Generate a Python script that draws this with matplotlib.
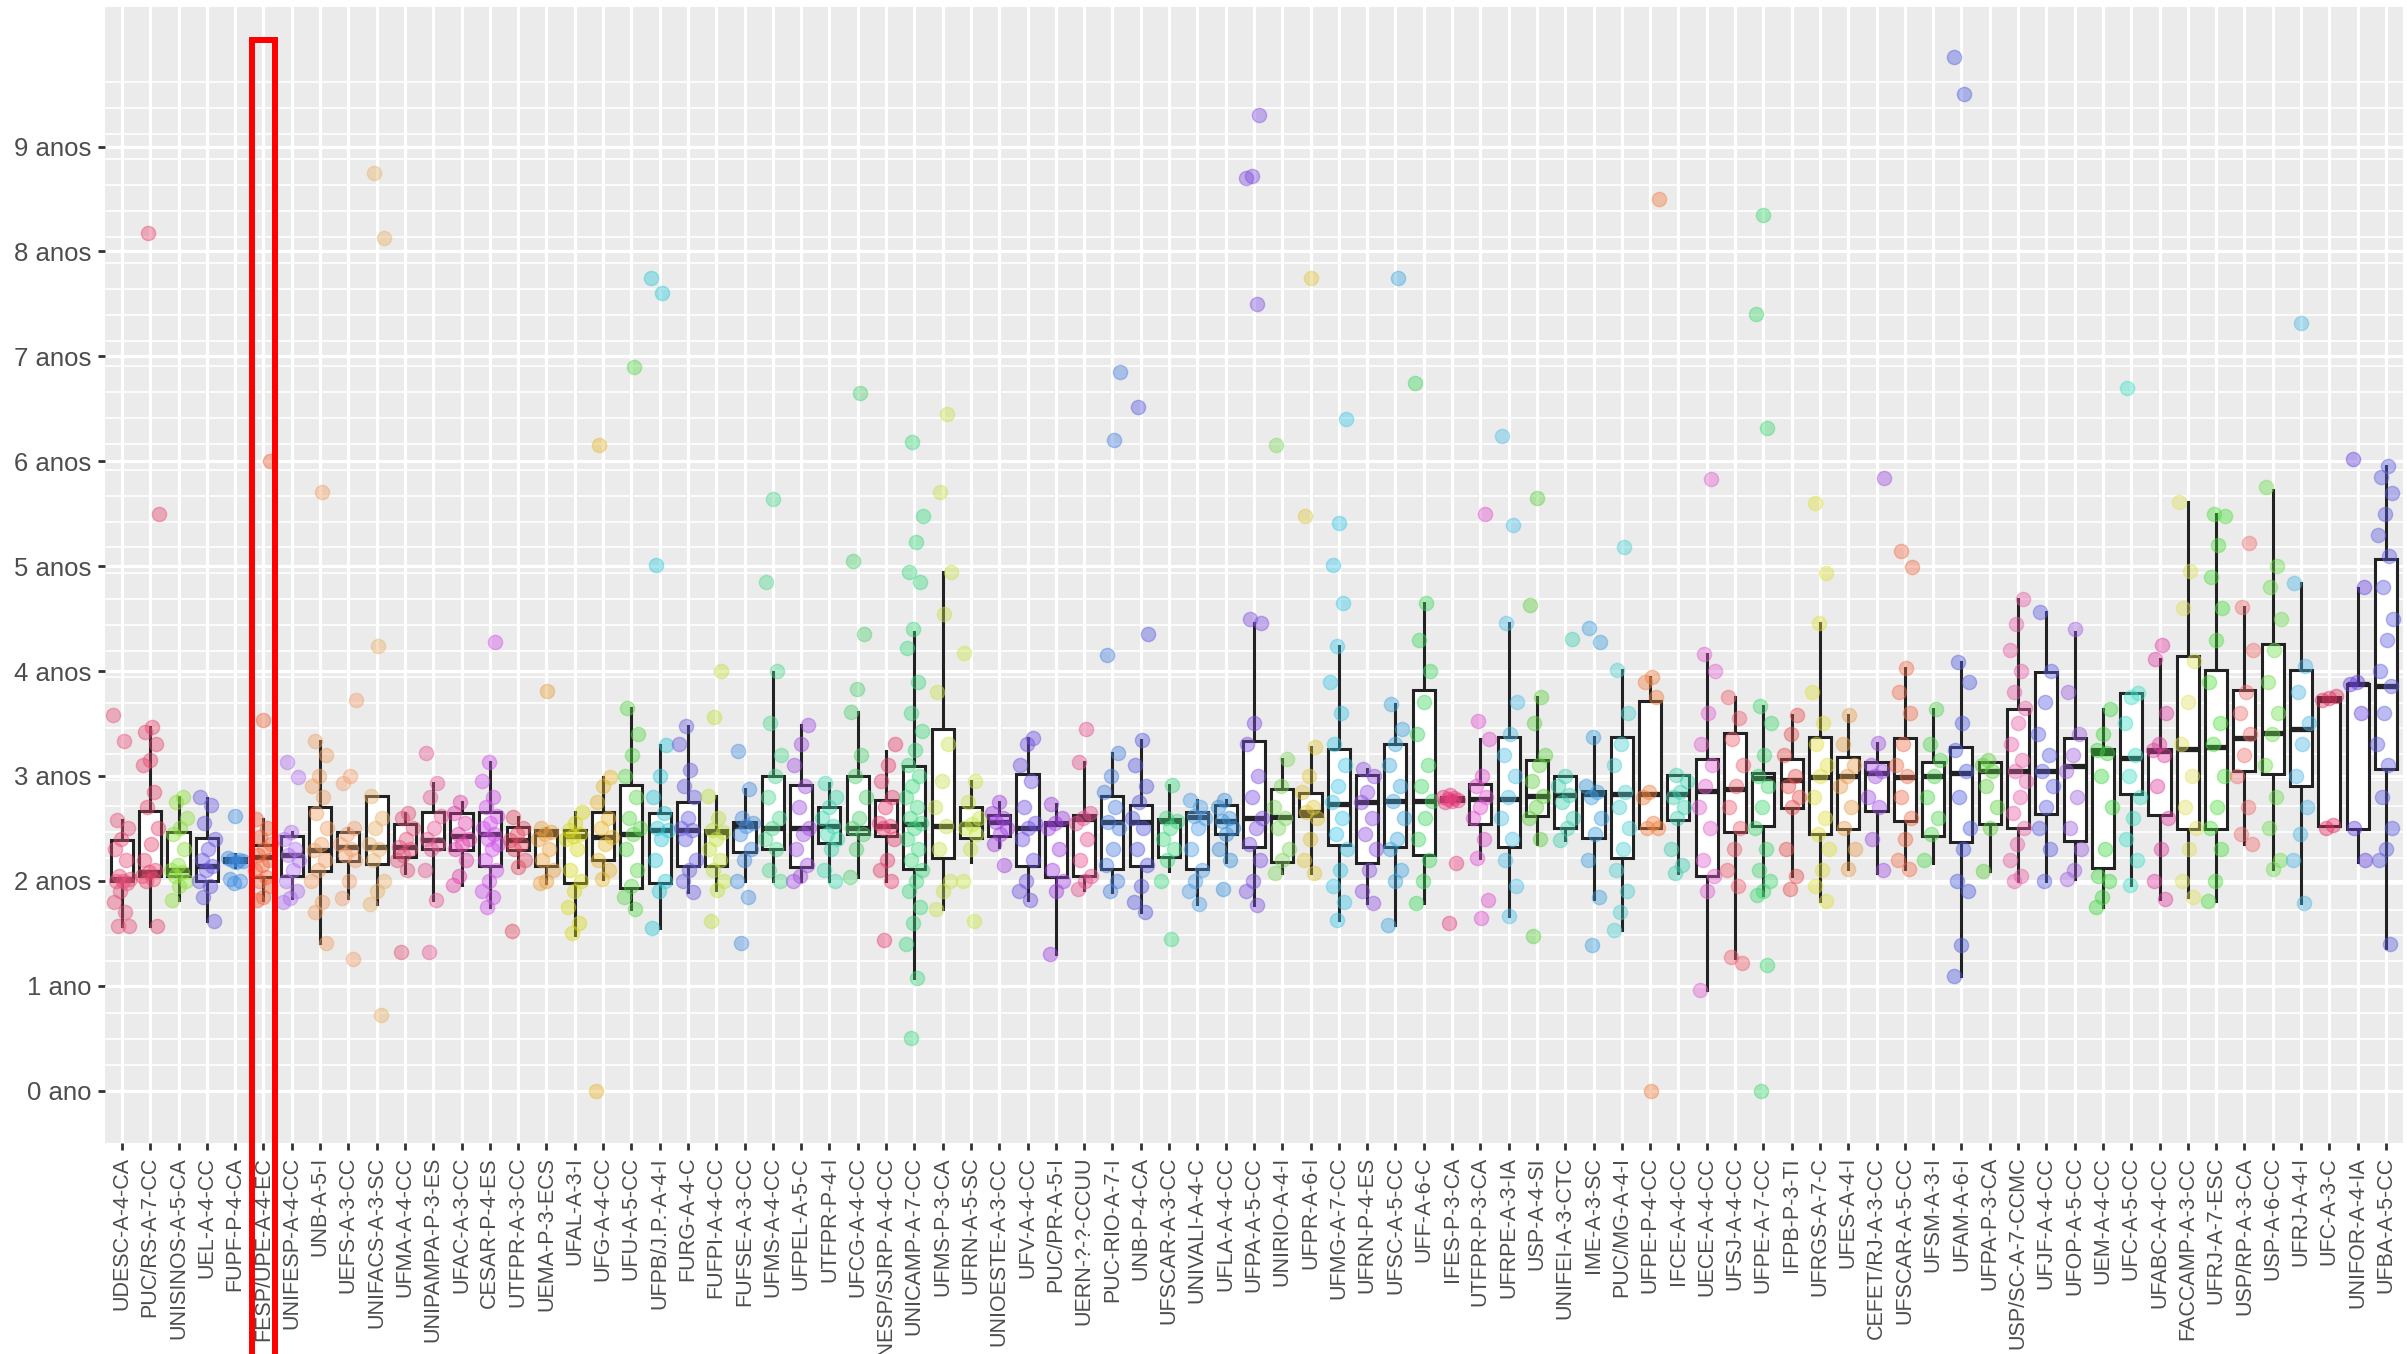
import matplotlib
matplotlib.use('Agg')
import matplotlib.pyplot as plt
import matplotlib.patches as patches
import numpy as np

plt.rcParams['font.family'] = ['Liberation Sans', 'DejaVu Sans']

# cursos (eixo x)
cursos = ['UDESC-A-4-CA', 'PUC/RS-A-7-CC', 'UNISINOS-A-5-CA', 'UEL-A-4-CC', 'FUPF-P-4-CA',
          'FESP/UPE-A-4-EC', 'UNIFESP-A-4-CC', 'UNB-A-5-I', 'UEFS-A-3-CC', 'UNIFACS-A-3-SC',
          'UFMA-A-4-CC', 'UNIPAMPA-P-3-ES', 'UFAC-A-3-CC', 'CESAR-P-4-ES', 'UTFPR-A-3-CC',
          'UEMA-P-3-ECS', 'UFAL-A-3-I', 'UFG-A-4-CC', 'UFU-A-5-CC', 'UFPB/J.P.-A-4-I',
          'FURG-A-4-C', 'FUFPI-A-4-CC', 'FUFSE-A-3-CC', 'UFMS-A-4-CC', 'UFPEL-A-5-C',
          'UTFPR-P-4-I', 'UFCG-A-4-CC', 'UNESP/SJRP-A-4-CC', 'UNICAMP-A-7-CC', 'UFMS-P-3-CA',
          'UFRN-A-5-SC', 'UNIOESTE-A-3-CC', 'UFV-A-4-CC', 'PUC/PR-A-5-I', 'UERN-?-?-CCUU',
          'PUC-RIO-A-7-I', 'UNB-P-4-CA', 'UFSCAR-A-3-CC', 'UNIVALI-A-4-C', 'UFLA-A-4-CC',
          'UFPA-A-5-CC', 'UNIRIO-A-4-I', 'UFPR-A-6-I', 'UFMG-A-7-CC', 'UFRN-P-4-ES',
          'UFSC-A-5-CC', 'UFF-A-6-C', 'IFES-P-3-CA', 'UTFPR-P-3-CA', 'UFRPE-A-3-IA',
          'USP-A-4-SI', 'UNIFEI-A-3-CTC', 'IME-A-3-SC', 'PUC/MG-A-4-I', 'UFPE-P-4-CC',
          'IFCE-A-4-CC', 'UECE-A-4-CC', 'UFSJ-A-4-CC', 'UFPE-A-7-CC', 'IFPB-P-3-TI',
          'UFRGS-A-7-C', 'UFES-A-4-I', 'CEFET/RJ-A-3-CC', 'UFSCAR-A-5-CC', 'UFSM-A-3-I',
          'UFAM-A-6-I', 'UFPA-P-3-CA', 'USP/SC-A-7-CCMC', 'UFJF-A-4-CC', 'UFOP-A-5-CC',
          'UEM-A-4-CC', 'UFC-A-5-CC', 'UFABC-A-4-CC', 'FACCAMP-A-3-CC', 'UFRJ-A-7-ESC',
          'USP/RP-A-3-CA', 'USP-A-6-CC', 'UFRJ-A-4-I', 'UFC-A-3-C', 'UNIFOR-A-4-IA',
          'UFBA-A-5-CC']

# estatisticas das caixas (anos)
q1 = [2.00, 2.05, 2.05, 2.00, 2.18, 2.04, 2.05, 2.09, 2.19, 2.16,
      2.23, 2.30, 2.29, 2.14, 2.29, 2.14, 1.98, 2.20, 1.93, 1.98,
      2.14, 2.14, 2.27, 2.30, 2.13, 2.36, 2.45, 2.43, 2.11, 2.22,
      2.41, 2.43, 2.14, 2.04, 2.05, 2.11, 2.14, 2.23, 2.11, 2.45,
      2.32, 2.18, 2.62, 2.34, 2.17, 2.32, 2.25, 2.76, 2.54, 2.32,
      2.62, 2.50, 2.41, 2.22, 2.50, 2.58, 2.05, 2.47, 2.52, 2.69,
      2.45, 2.49, 2.67, 2.57, 2.43, 2.37, 2.54, 2.50, 2.64, 2.38,
      2.12, 2.83, 2.63, 2.49, 2.49, 3.05, 3.02, 2.90, 2.52, 2.49,
      3.07]
mediana = [2.02, 2.08, 2.10, 2.14, 2.20, 2.23, 2.25, 2.29, 2.32, 2.32,
           2.32, 2.39, 2.43, 2.45, 2.39, 2.45, 2.43, 2.42, 2.45, 2.48,
           2.48, 2.47, 2.52, 2.50, 2.50, 2.52, 2.50, 2.52, 2.54, 2.52,
           2.54, 2.56, 2.50, 2.54, 2.59, 2.56, 2.56, 2.57, 2.61, 2.57,
           2.60, 2.61, 2.66, 2.73, 2.75, 2.76, 2.76, 2.78, 2.78, 2.78,
           2.81, 2.82, 2.83, 2.83, 2.83, 2.83, 2.86, 2.88, 2.98, 2.96,
           2.99, 3.00, 3.03, 2.99, 3.00, 3.03, 3.05, 3.05, 3.05, 3.09,
           3.22, 3.17, 3.24, 3.26, 3.28, 3.36, 3.41, 3.45, 3.72, 3.88,
           3.86]
q3 = [2.39, 2.67, 2.47, 2.41, 2.22, 2.34, 2.43, 2.70, 2.47, 2.81,
      2.54, 2.66, 2.65, 2.66, 2.51, 2.48, 2.48, 2.66, 2.91, 2.65,
      2.75, 2.48, 2.56, 3.00, 2.91, 2.70, 3.00, 2.77, 3.09, 3.45,
      2.70, 2.63, 3.02, 2.56, 2.63, 2.81, 2.72, 2.59, 2.66, 2.72,
      3.33, 2.88, 2.84, 3.26, 3.01, 3.30, 3.82, 2.80, 2.92, 3.37,
      3.15, 3.00, 2.86, 3.37, 3.71, 3.01, 3.16, 3.41, 3.03, 3.16,
      3.37, 3.18, 3.13, 3.36, 3.13, 3.28, 3.13, 3.64, 3.99, 3.36,
      3.26, 3.79, 3.26, 4.14, 4.01, 3.82, 4.26, 4.01, 3.75, 3.88,
      5.07]
bigode_inf = [1.57, 1.57, 1.82, 1.62, 2.13, 1.82, 1.84, 1.41, 1.84, 1.78,
              2.07, 1.82, 1.96, 1.75, 2.13, 1.98, 1.48, 2.02, 1.73, 1.55,
              1.89, 1.91, 2.00, 2.00, 2.00, 2.00, 2.04, 2.00, 1.07, 1.73,
              2.18, 2.32, 1.82, 1.30, 1.91, 1.89, 1.70, 2.09, 1.78, 2.18,
              1.77, 2.07, 2.07, 1.63, 1.79, 1.58, 1.79, 2.74, 2.22, 1.66,
              2.35, 2.39, 1.83, 1.53, 2.50, 2.07, 0.96, 1.26, 1.86, 2.05,
              1.81, 2.11, 2.07, 2.11, 2.17, 1.09, 2.09, 2.00, 2.00, 2.02,
              1.75, 1.96, 1.83, 1.85, 1.81, 2.35, 2.11, 1.79, 2.52, 2.18,
              1.36]
bigode_sup = [2.58, 3.47, 2.80, 2.79, 2.26, 2.59, 2.47, 3.33, 2.50, 2.81,
              2.65, 2.93, 2.75, 3.13, 2.61, 2.50, 2.66, 2.99, 3.65, 3.29,
              3.48, 2.81, 2.88, 3.99, 3.49, 2.93, 3.61, 3.24, 4.37, 4.94,
              2.95, 2.75, 3.36, 2.73, 3.13, 3.22, 3.34, 2.91, 2.77, 2.77,
              4.46, 3.16, 3.28, 4.24, 3.07, 3.69, 4.65, 2.82, 3.35, 4.46,
              3.75, 3.00, 3.37, 4.01, 3.94, 3.01, 4.16, 3.75, 3.67, 3.58,
              4.46, 3.58, 3.31, 4.03, 3.64, 4.09, 3.13, 4.69, 4.56, 4.37,
              3.64, 3.79, 4.11, 5.61, 5.50, 4.61, 5.73, 4.84, 3.75, 4.79,
              5.95]

# tempo de cada aluno (anos), por curso
alunos = [
    [3.58, 3.33, 2.58, 2.5, 2.4, 2.3, 2.2, 2.05, 2.02, 2.0, 2.0, 1.98, 1.9, 1.8, 1.7, 1.57, 1.57],
    [8.18, 5.5, 3.47, 3.42, 3.3, 3.15, 3.1, 2.85, 2.7, 2.5, 2.35, 2.2, 2.1, 2.08, 2.05, 2.02, 2.0, 1.57],
    [2.8, 2.75, 2.6, 2.5, 2.45, 2.3, 2.15, 2.1, 2.08, 2.05, 2.0, 1.95, 1.82],
    [2.8, 2.72, 2.55, 2.4, 2.3, 2.2, 2.14, 2.1, 2.0, 1.95, 1.85, 1.62],
    [2.62, 2.22, 2.2, 2.2, 2.19, 2.18, 2.02, 2.0, 1.98],
    [6.0, 3.53, 2.59, 2.5, 2.42, 2.35, 2.3, 2.25, 2.2, 2.15, 2.1, 2.04, 2.0, 1.95, 1.85, 1.82],
    [3.13, 2.99, 2.47, 2.4, 2.3, 2.25, 2.2, 2.1, 2.0, 1.9, 1.84, 1.8],
    [5.71, 3.33, 3.2, 3.0, 2.9, 2.8, 2.65, 2.5, 2.35, 2.29, 2.2, 2.1, 2.0, 1.8, 1.7, 1.41],
    [3.72, 3.0, 2.93, 2.5, 2.45, 2.35, 2.3, 2.25, 2.2, 2.0, 1.84, 1.25],
    [8.75, 8.13, 4.24, 2.81, 2.6, 2.5, 2.35, 2.3, 2.2, 2.0, 1.9, 1.78, 0.72],
    [2.65, 2.6, 2.5, 2.4, 2.32, 2.3, 2.25, 2.2, 2.1, 1.32],
    [3.22, 2.93, 2.8, 2.62, 2.5, 2.4, 2.35, 2.3, 2.1, 1.82, 1.32],
    [2.75, 2.65, 2.55, 2.45, 2.4, 2.35, 2.3, 2.2, 2.05, 1.96],
    [4.28, 3.13, 2.95, 2.8, 2.7, 2.62, 2.55, 2.5, 2.45, 2.4, 2.35, 2.3, 2.2, 2.1, 2.0, 1.9, 1.85, 1.75],
    [2.61, 2.5, 2.45, 2.39, 2.35, 2.3, 2.2, 2.13, 1.52],
    [3.81, 2.5, 2.47, 2.45, 2.4, 2.3, 2.2, 2.1, 2.0, 1.98],
    [2.66, 2.55, 2.48, 2.45, 2.43, 2.4, 2.3, 2.1, 2.0, 1.9, 1.75, 1.6, 1.5],
    [6.15, 2.99, 2.9, 2.75, 2.6, 2.5, 2.42, 2.35, 2.2, 2.1, 2.02, 0.0],
    [6.9, 3.65, 3.4, 3.2, 3.0, 2.8, 2.6, 2.5, 2.45, 2.3, 2.1, 1.95, 1.85, 1.73],
    [7.75, 7.6, 5.01, 3.29, 3.0, 2.8, 2.65, 2.5, 2.48, 2.4, 2.2, 2.0, 1.9, 1.55],
    [3.48, 3.3, 3.06, 2.9, 2.8, 2.6, 2.5, 2.48, 2.4, 2.2, 2.1, 2.0, 1.89],
    [4.0, 3.56, 2.81, 2.6, 2.48, 2.47, 2.4, 2.3, 2.2, 2.1, 2.0, 1.91, 1.62],
    [3.24, 2.88, 2.6, 2.55, 2.52, 2.45, 2.3, 2.2, 2.0, 1.85, 1.41],
    [5.64, 4.85, 4.0, 3.5, 3.2, 3.0, 2.8, 2.6, 2.5, 2.4, 2.3, 2.1, 2.0],
    [3.49, 3.3, 3.1, 2.9, 2.7, 2.5, 2.45, 2.3, 2.15, 2.05, 2.0],
    [2.93, 2.8, 2.7, 2.6, 2.52, 2.45, 2.4, 2.3, 2.1, 2.0],
    [6.65, 5.05, 4.35, 3.83, 3.61, 3.2, 3.0, 2.8, 2.6, 2.5, 2.45, 2.3, 2.04],
    [3.3, 3.1, 2.95, 2.8, 2.7, 2.55, 2.52, 2.5, 2.4, 2.2, 2.1, 2.0, 1.44],
    [6.18, 5.48, 5.23, 4.94, 4.85, 4.4, 4.22, 3.9, 3.6, 3.43, 3.25, 3.1, 3.0, 2.9, 2.8,
     2.7, 2.6, 2.55, 2.5, 2.4, 2.3, 2.2, 2.1, 2.0, 1.9, 1.75, 1.6, 1.4, 1.07, 0.5],
    [6.45, 5.71, 4.94, 4.54, 3.8, 3.3, 2.95, 2.7, 2.52, 2.3, 2.0, 1.9, 1.73],
    [4.17, 2.95, 2.75, 2.6, 2.54, 2.5, 2.45, 2.3, 2.0, 1.62],
    [2.75, 2.65, 2.6, 2.56, 2.5, 2.45, 2.35, 2.15],
    [3.36, 3.3, 3.1, 2.95, 2.7, 2.55, 2.5, 2.4, 2.2, 2.0, 1.9, 1.82],
    [2.73, 2.6, 2.55, 2.5, 2.3, 2.1, 2.0, 1.9, 1.3],
    [3.45, 3.13, 2.65, 2.6, 2.55, 2.4, 2.2, 2.05, 2.0, 1.92],
    [6.85, 6.2, 4.15, 3.22, 3.0, 2.85, 2.7, 2.56, 2.5, 2.3, 2.15, 2.0, 1.9],
    [6.52, 4.35, 3.34, 3.1, 2.9, 2.75, 2.6, 2.5, 2.3, 2.15, 1.95, 1.8, 1.7],
    [2.91, 2.6, 2.57, 2.5, 2.4, 2.3, 2.2, 2.0, 1.45],
    [2.77, 2.7, 2.62, 2.6, 2.5, 2.3, 2.1, 2.0, 1.9, 1.78],
    [2.77, 2.7, 2.6, 2.57, 2.5, 2.45, 2.3, 2.2, 1.92],
    [9.3, 8.72, 8.7, 7.5, 4.5, 4.46, 3.5, 3.3, 3.0, 2.8, 2.6, 2.5, 2.35, 2.2, 2.0, 1.9, 1.77],
    [6.15, 3.16, 2.9, 2.7, 2.6, 2.5, 2.3, 2.2, 2.07],
    [7.75, 5.48, 3.28, 3.0, 2.85, 2.7, 2.66, 2.6, 2.4, 2.2, 2.07],
    [6.4, 5.41, 5.01, 4.65, 4.24, 3.9, 3.6, 3.3, 3.1, 2.9, 2.75, 2.6, 2.45, 2.3, 2.1, 1.95, 1.8, 1.63],
    [3.07, 3.0, 2.85, 2.75, 2.6, 2.45, 2.3, 2.1, 1.9, 1.79],
    [7.75, 3.69, 3.45, 3.3, 3.1, 2.9, 2.76, 2.6, 2.4, 2.3, 2.1, 2.0, 1.58],
    [6.75, 4.65, 4.3, 4.0, 3.7, 3.4, 3.1, 2.9, 2.76, 2.6, 2.4, 2.2, 2.0, 1.79],
    [2.82, 2.8, 2.79, 2.78, 2.77, 2.76, 2.75, 2.17, 1.6],
    [5.5, 3.52, 3.35, 3.0, 2.9, 2.8, 2.7, 2.6, 2.4, 2.22, 1.82, 1.65],
    [6.24, 5.39, 4.46, 3.7, 3.4, 3.2, 3.0, 2.8, 2.6, 2.4, 2.2, 1.95, 1.66],
    [5.65, 4.63, 3.75, 3.5, 3.2, 3.1, 2.95, 2.81, 2.7, 2.6, 2.4, 1.47],
    [4.31, 3.0, 2.9, 2.82, 2.75, 2.6, 2.5, 2.39],
    [4.41, 4.28, 3.37, 2.9, 2.85, 2.8, 2.6, 2.45, 2.2, 1.85, 1.39],
    [5.18, 4.01, 3.6, 3.3, 3.1, 2.85, 2.7, 2.5, 2.3, 2.1, 1.9, 1.7, 1.53],
    [8.5, 3.94, 3.9, 3.75, 2.85, 2.8, 2.55, 2.5, 2.5, 0.0],
    [3.01, 2.95, 2.85, 2.8, 2.7, 2.6, 2.3, 2.15, 2.07],
    [5.83, 4.16, 4.0, 3.6, 3.3, 3.1, 2.9, 2.7, 2.5, 2.2, 2.05, 1.9, 0.96],
    [3.75, 3.55, 3.35, 3.1, 2.9, 2.7, 2.5, 2.3, 2.1, 1.95, 1.27, 1.22],
    [8.35, 7.4, 6.32, 3.67, 3.5, 3.2, 3.0, 2.9, 2.7, 2.5, 2.3, 2.1, 2.0, 1.9, 1.86, 1.2, 0.0],
    [3.58, 3.4, 3.2, 3.0, 2.9, 2.8, 2.7, 2.3, 2.05, 1.92],
    [5.6, 4.93, 4.46, 3.8, 3.5, 3.3, 3.1, 3.0, 2.8, 2.6, 2.45, 2.3, 2.1, 1.95, 1.81],
    [3.58, 3.3, 3.1, 3.0, 2.9, 2.7, 2.5, 2.3, 2.11],
    [5.84, 3.31, 3.1, 3.05, 3.0, 2.8, 2.7, 2.4, 2.1],
    [5.14, 4.99, 4.03, 3.8, 3.6, 3.3, 3.1, 3.0, 2.8, 2.6, 2.4, 2.2, 2.11],
    [3.64, 3.3, 3.15, 3.0, 2.8, 2.6, 2.45, 2.2],
    [9.85, 9.5, 4.09, 3.9, 3.5, 3.25, 3.05, 2.8, 2.5, 2.3, 2.0, 1.9, 1.39, 1.09],
    [3.15, 3.1, 3.05, 2.9, 2.7, 2.5, 2.09],
    [4.69, 4.45, 4.2, 4.0, 3.8, 3.65, 3.5, 3.3, 3.15, 3.05, 2.95, 2.8, 2.65, 2.5, 2.35, 2.2, 2.05, 2.0],
    [4.56, 4.0, 3.7, 3.4, 3.2, 3.05, 2.9, 2.7, 2.5, 2.3, 2.0],
    [4.4, 3.8, 3.4, 3.2, 3.05, 2.8, 2.5, 2.3, 2.1, 2.02],
    [3.64, 3.4, 3.25, 3.22, 3.0, 2.7, 2.3, 2.05, 2.0, 1.85, 1.75],
    [6.7, 3.79, 3.75, 3.5, 3.2, 3.0, 2.8, 2.6, 2.4, 2.2, 1.96],
    [4.25, 4.11, 3.6, 3.3, 3.25, 3.2, 2.9, 2.6, 2.3, 2.0, 1.83],
    [5.61, 4.95, 4.6, 4.1, 3.7, 3.3, 3.0, 2.7, 2.5, 2.3, 2.0, 1.85],
    [5.5, 5.48, 5.2, 4.9, 4.6, 4.3, 3.9, 3.5, 3.3, 3.0, 2.7, 2.5, 2.3, 2.0, 1.81],
    [5.22, 4.61, 4.2, 3.8, 3.6, 3.4, 3.2, 3.0, 2.7, 2.45, 2.35],
    [5.75, 5.0, 4.8, 4.5, 4.2, 3.9, 3.6, 3.4, 3.1, 2.8, 2.5, 2.2, 2.11],
    [7.32, 4.84, 4.05, 3.8, 3.5, 3.3, 3.0, 2.7, 2.45, 2.2, 1.79],
    [3.76, 3.74, 3.72, 2.53, 2.5],
    [6.02, 4.8, 3.9, 3.88, 3.6, 2.5, 2.2],
    [5.95, 5.85, 5.7, 5.5, 5.3, 5.1, 4.8, 4.5, 4.3, 4.0, 3.86, 3.6, 3.3, 3.1, 2.8, 2.5, 2.3, 2.2, 1.4],
]

cores = ['#E8507A', '#E8486E', '#8CE03C', '#6A5AE0', '#3C8CE0', '#F0653C', '#B070F0', '#F0A064',
         '#F0A070', '#E8B26A', '#E0507A', '#E85A96', '#E040A8', '#D050E8', '#E04860', '#E8A040',
         '#D8D820', '#E8B830', '#5AD84A', '#30C8D8', '#6A60E0', '#C0E040', '#4A90E0', '#50D890',
         '#A050E0', '#40D8B0', '#50D070', '#E84070', '#40D880', '#C8E050', '#C8E848', '#A040E0',
         '#7050E0', '#A040E0', '#E85090', '#4A80E0', '#5A5AE0', '#40D880', '#50A0E8', '#3890D8',
         '#8050E0', '#80D860', '#E0C840', '#40C8E8', '#9050E0', '#40A8E0', '#40D860', '#E84080',
         '#E050D0', '#50C0E8', '#60D040', '#40D0B0', '#40A0E0', '#50D0D0', '#F08040', '#40D0B0',
         '#E060D0', '#F06070', '#40D870', '#E85050', '#E0E040', '#E8A050', '#A050E0', '#F07050',
         '#50D850', '#5060E0', '#60D040', '#E860A8', '#6060E8', '#A060E0', '#40D840', '#40E0C8',
         '#E040A0', '#E0E060', '#50E040', '#F07070', '#70E050', '#50B8E8', '#E03060', '#6A40E0',
         '#6060E0']

anos = list(range(10))
rotulos_anos = ['0 ano', '1 ano'] + ['%d anos' % a for a in anos[2:]]

fig = plt.figure(figsize=(24.07, 13.54), dpi=100)
ax = fig.add_axes([0.0436, 0.1558, 0.9547, 0.8390])
ax.set_facecolor('#EBEBEB')

pos = np.arange(1, len(cursos) + 1)

# caixas
stats = []
for i in range(len(cursos)):
    stats.append({'med': mediana[i], 'q1': q1[i], 'q3': q3[i],
                  'whislo': bigode_inf[i], 'whishi': bigode_sup[i], 'fliers': []})
ax.bxp(stats, positions=pos, widths=0.78, patch_artist=True, showcaps=False,
       showfliers=False, manage_ticks=False,
       boxprops=dict(facecolor='white', edgecolor='#222222', linewidth=2.2),
       whiskerprops=dict(color='#222222', linewidth=2.2),
       medianprops=dict(color='#222222', linewidth=3.8, solid_capstyle='butt'))

# pontos com jitter
for i in range(len(cursos)):
    y = np.array(alunos[i])
    k = np.arange(len(y))
    dx = ((k * 0.618 + i * 0.37) % 1 - 0.5) * 0.62
    ax.scatter(pos[i] + dx, y, s=105, color=cores[i], alpha=0.42,
               edgecolors=cores[i], linewidths=1.0, zorder=4)

ax.set_xlim(0.4, len(cursos) + 0.6)
ax.set_ylim(-0.5, 10.33)
ax.set_xticks(pos)
ax.set_xticklabels(cursos, rotation=90, fontsize=15.5, color='#4D4D4D')
ax.set_yticks(anos)
ax.set_yticklabels(rotulos_anos, fontsize=18.5, color='#4D4D4D')
ax.set_yticks(np.arange(0, 9.8, 90 / 365.0), minor=True)

ax.tick_params(axis='both', which='major', color='#333333', length=5, width=2, pad=5)
ax.tick_params(axis='y', which='minor', length=0)
ax.grid(True, which='major', color='white', linewidth=2.3)
ax.grid(True, which='minor', axis='y', color='white', linewidth=1.2)
ax.set_axisbelow(True)
for s in ax.spines.values():
    s.set_visible(False)

# destaque em vermelho
ret = patches.Rectangle((5.58, -3.0), 0.82, 13.02, fill=False, edgecolor='#FF0000',
                        linewidth=4.3, clip_on=False, zorder=10)
ax.add_patch(ret)

plt.savefig('out.png', dpi=100)
